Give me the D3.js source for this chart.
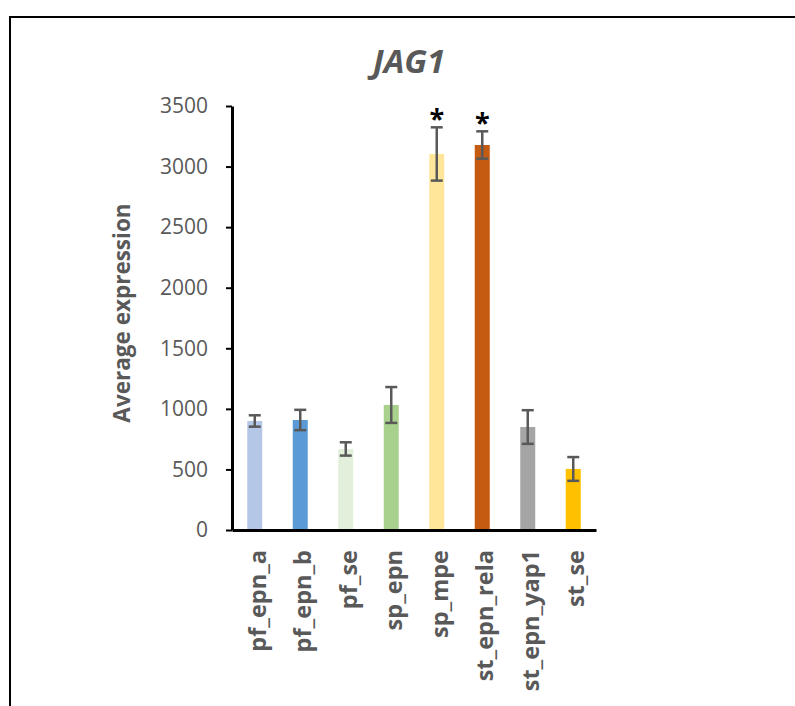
<!DOCTYPE html>
<html>
<head>
<meta charset="utf-8">
<script src="https://cdn.jsdelivr.net/npm/d3@7"></script>
<style>
  html, body { margin: 0; padding: 0; background: #fff; }
  svg { display: block; }
  text { font-family: "Open Sans", "Noto Sans", sans-serif; }
</style>
</head>
<body>
<svg id="chart" width="795" height="706"></svg>
<script>
// Average expression of JAG1 per tumour group, with error bars (± one error unit)
const categories = ["pf_epn_a", "pf_epn_b", "pf_se", "sp_epn", "sp_mpe", "st_epn_rela", "st_epn_yap1", "st_se"];
const values     = [900, 908, 669, 1032, 3104, 3178, 850, 504];
const errors     = [47, 84, 55, 148, 220, 113, 139, 98];
const colors     = ["#B4C7E7", "#5B9BD5", "#E2EFDA", "#A9D18E", "#FFE699", "#C55A11", "#A5A5A5", "#FFC000"];
const significant = [false, false, false, false, true, true, false, false];
const yTicks     = [0, 500, 1000, 1500, 2000, 2500, 3000, 3500];

const svg = d3.select("#chart");
const textGray = "#595959";
const font = "'Open Sans', 'Noto Sans', sans-serif";

// outer frame (runs past the right and bottom edges)
svg.append("rect")
  .attr("x", 10).attr("y", 17)
  .attr("width", 820).attr("height", 720)
  .attr("fill", "none").attr("stroke", "#000").attr("stroke-width", 2);

const margin = { left: 232, right: 596, top: 106, bottom: 530 };

const x = d3.scaleBand()
  .domain(categories)
  .range([margin.left, margin.right])
  .paddingInner(0.67)
  .paddingOuter(0.335);

const y = d3.scaleLinear()
  .domain([0, 3500])
  .range([margin.bottom, margin.top]);

// title
svg.append("text")
  .attr("x", 409).attr("y", 73)
  .attr("text-anchor", "middle")
  .attr("font-size", 33).attr("font-weight", "bold").attr("font-style", "italic")
  .attr("fill", textGray)
  .text("JAG1");

// bars
svg.append("g").selectAll("rect")
  .data(categories)
  .join("rect")
  .attr("x", d => x(d))
  .attr("width", x.bandwidth())
  .attr("y", (d, i) => y(values[i]))
  .attr("height", (d, i) => y(0) - y(values[i]))
  .attr("fill", (d, i) => colors[i]);

// error bars
const capHalf = 6;
const eb = svg.append("g").attr("stroke", "#595959").attr("stroke-width", 2.5);
categories.forEach((c, i) => {
  const cx = x(c) + x.bandwidth() / 2;
  const yt = y(values[i] + errors[i]);
  const yb = y(values[i] - errors[i]);
  eb.append("line").attr("x1", cx).attr("x2", cx).attr("y1", yt).attr("y2", yb);
  eb.append("line").attr("x1", cx - capHalf).attr("x2", cx + capHalf).attr("y1", yt).attr("y2", yt);
  eb.append("line").attr("x1", cx - capHalf).attr("x2", cx + capHalf).attr("y1", yb).attr("y2", yb);
});

// significance markers
svg.append("g").selectAll("text")
  .data(categories.filter((c, i) => significant[i]))
  .join("text")
  .attr("x", d => x(d) + x.bandwidth() / 2)
  .attr("y", d => { const i = categories.indexOf(d); return y(values[i] + errors[i]) + 1; })
  .attr("text-anchor", "middle")
  .attr("font-size", 27).attr("font-weight", "bold")
  .attr("fill", "#000")
  .text("*");

// y axis
const yAxis = svg.append("g")
  .attr("transform", `translate(${margin.left},0)`)
  .call(d3.axisLeft(y).tickValues(yTicks).tickFormat(d3.format("d"))
    .tickSize(6).tickPadding(18).tickSizeOuter(0));
yAxis.select(".domain").attr("stroke", "#000").attr("stroke-width", 3);
yAxis.selectAll(".tick line").attr("stroke", "#000").attr("stroke-width", 2);
yAxis.selectAll(".tick text")
  .attr("font-size", 21).attr("fill", textGray)
  .attr("font-family", font);

// x axis
const xAxis = svg.append("g")
  .attr("transform", `translate(0,${margin.bottom})`)
  .call(d3.axisBottom(x).tickSize(0).tickSizeOuter(0));
xAxis.select(".domain").attr("stroke", "#000").attr("stroke-width", 3);
xAxis.selectAll(".tick text")
  .attr("transform", "rotate(-90)")
  .attr("text-anchor", "end")
  .attr("x", -20).attr("y", 3).attr("dy", "0.35em")
  .attr("font-size", 23.5).attr("font-weight", "bold").attr("fill", textGray)
  .attr("font-family", font);

// y axis title
svg.append("text")
  .attr("transform", `translate(130,${313}) rotate(-90)`)
  .attr("text-anchor", "middle")
  .attr("font-size", 22.5).attr("font-weight", "bold").attr("fill", textGray)
  .text("Average expression");
</script>
</body>
</html>
